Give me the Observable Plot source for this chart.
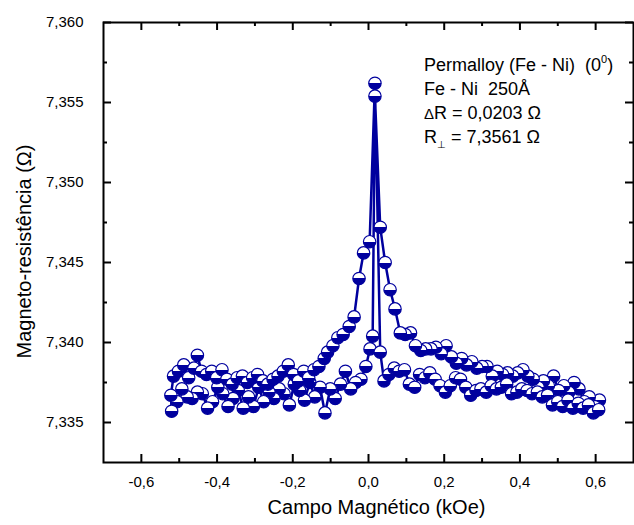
<!DOCTYPE html>
<html><head><meta charset="utf-8">
<script src="https://cdn.jsdelivr.net/npm/d3@7"></script>
<script src="https://cdn.jsdelivr.net/npm/@observablehq/plot@0.6"></script>
<style>body{margin:0;background:#fff} svg{display:block}</style>
</head><body><div id="chart"></div>
<script>
// Sweep with decreasing field (kOe) and resistance (Ω)
const sweepDownX = [0.610,0.597,0.583,0.570,0.556,0.543,0.529,0.516,0.502,0.489,0.475,0.462,0.448,0.435,0.421,0.408,0.394,0.381,0.367,0.354,0.340,0.327,0.313,0.300,0.286,0.273,0.259,0.246,0.232,0.219,0.205,0.192,0.178,0.165,0.151,0.138,0.124,0.111,0.097,0.084,0.070,0.057,0.044,0.031,0.017,0.011,0.004,-0.007,-0.020,-0.034,-0.047,-0.061,-0.074,-0.088,-0.101,-0.115,-0.128,-0.142,-0.155,-0.169,-0.182,-0.196,-0.209,-0.223,-0.236,-0.250,-0.263,-0.277,-0.290,-0.304,-0.317,-0.331,-0.344,-0.358,-0.371,-0.385,-0.398,-0.412,-0.425,-0.439,-0.452,-0.466,-0.479,-0.493,-0.506,-0.520];
const sweepDownY = [7.3364,7.3360,7.3366,7.3363,7.3371,7.3375,7.3369,7.3373,7.3370,7.3379,7.3373,7.3376,7.3372,7.3377,7.3379,7.3383,7.3381,7.3379,7.3381,7.3380,7.3382,7.3379,7.3385,7.3385,7.3384,7.3388,7.3386,7.3390,7.3387,7.3391,7.3398,7.3393,7.3397,7.3396,7.3396,7.3395,7.3398,7.3406,7.3405,7.3406,7.3421,7.3433,7.3450,7.3472,7.3554,7.3404,7.3396,7.3385,7.3377,7.3375,7.3371,7.3382,7.3374,7.3365,7.3371,7.3356,7.3372,7.3366,7.3375,7.3364,7.3370,7.3374,7.3361,7.3368,7.3371,7.3365,7.3369,7.3363,7.3372,7.3360,7.3366,7.3359,7.3370,7.3365,7.3360,7.3368,7.3372,7.3363,7.3359,7.3368,7.3369,7.3365,7.3366,7.3371,7.3363,7.3357];
// Sweep with increasing field
const sweepUpX = [-0.522,-0.515,-0.502,-0.488,-0.475,-0.461,-0.452,-0.441,-0.428,-0.414,-0.401,-0.387,-0.374,-0.360,-0.347,-0.333,-0.320,-0.306,-0.293,-0.279,-0.266,-0.252,-0.239,-0.225,-0.212,-0.198,-0.185,-0.171,-0.158,-0.144,-0.131,-0.117,-0.108,-0.094,-0.081,-0.067,-0.051,-0.038,-0.025,-0.013,0.003,0.017,0.031,0.041,0.054,0.068,0.081,0.095,0.108,0.122,0.135,0.149,0.162,0.176,0.189,0.203,0.216,0.230,0.243,0.257,0.270,0.284,0.297,0.311,0.324,0.338,0.351,0.365,0.378,0.392,0.405,0.419,0.432,0.446,0.459,0.473,0.486,0.500,0.513,0.527,0.540,0.554,0.567,0.581,0.594,0.608];
const sweepUpY = [7.3367,7.3379,7.3382,7.3386,7.3378,7.3384,7.3392,7.3382,7.3380,7.3382,7.3378,7.3383,7.3377,7.3374,7.3378,7.3379,7.3375,7.3378,7.3380,7.3376,7.3374,7.3377,7.3379,7.3382,7.3386,7.3380,7.3376,7.3382,7.3378,7.3383,7.3385,7.3390,7.3394,7.3398,7.3403,7.3405,7.3410,7.3416,7.3440,7.3456,7.3463,7.3562,7.3394,7.3376,7.3380,7.3384,7.3382,7.3383,7.3374,7.3372,7.3380,7.3378,7.3381,7.3377,7.3373,7.3369,7.3373,7.3378,7.3377,7.3372,7.3367,7.3370,7.3371,7.3369,7.3373,7.3371,7.3372,7.3374,7.3368,7.3369,7.3371,7.3370,7.3368,7.3369,7.3366,7.3367,7.3361,7.3363,7.3360,7.3364,7.3359,7.3362,7.3359,7.3361,7.3356,7.3358];

const xTicks = [-0.6,-0.4,-0.2,0.0,0.2,0.4,0.6];
const xMinorTicks = [-0.5,-0.3,-0.1,0.1,0.3,0.5];
const yTicks = [7.335,7.340,7.345,7.350,7.355,7.360];
const yMinorTicks = [7.3375,7.3425,7.3475,7.3525,7.3575];

const xTitle = "Campo Magnético (kOe)";
const yTitle = "Magneto-resistência (Ω)";

const xDomain = [-0.7, 0.7];
const yDomain = [7.3325, 7.360];

const navy = "#00009E";
const font = "'Liberation Sans', Arial, Helvetica, sans-serif";

const data = [
  ...sweepDownX.map((h, i) => ({h, res: sweepDownY[i]})),
  ...sweepUpX.map((h, i) => ({h, res: sweepUpY[i]}))
];

const fmtX = d => d.toFixed(1).replace(".", ",");
const fmtY = d => d.toFixed(3).replace(".", ",");

const W = 634, H = 525, mL = 103, mR = 1, mT = 22, mB = 63;
// inward tick lengths expressed in scale units (8 px major, 4 px minor)
const xPerPx = (xDomain[1] - xDomain[0]) / (W - mL - mR);
const yPerPx = (yDomain[1] - yDomain[0]) / (H - mT - mB);
const tickStyle = {stroke: "#000", strokeWidth: 2};
const ticksBottom = (v, px) => Plot.ruleX(v, {x: d => d, y1: yDomain[0], y2: yDomain[0] + px * yPerPx, ...tickStyle});
const ticksTop = (v, px) => Plot.ruleX(v, {x: d => d, y1: yDomain[1] - px * yPerPx, y2: yDomain[1], ...tickStyle});
const ticksLeft = (v, px) => Plot.ruleY(v, {y: d => d, x1: xDomain[0], x2: xDomain[0] + px * xPerPx, ...tickStyle});
const ticksRight = (v, px) => Plot.ruleY(v, {y: d => d, x1: xDomain[1] - px * xPerPx, x2: xDomain[1], ...tickStyle});

const svg = Plot.plot({
  width: W,
  height: H,
  marginLeft: mL,
  marginRight: mR,
  marginTop: mT,
  marginBottom: mB,
  style: {fontFamily: font, background: "#fff", color: "#000"},
  x: {domain: xDomain},
  y: {domain: yDomain},
  marks: [
    Plot.line(data, {x: "h", y: "res", stroke: navy, strokeWidth: 2.5}),
    Plot.dot(data, {x: "h", y: "res", r: 6.2, fill: "url(#halfFill)", stroke: navy, strokeWidth: 1.2}),
    // tick labels
    Plot.axisX(xTicks, {anchor: "bottom", tickSize: 0, tickPadding: 14, tickFormat: fmtX, fontSize: 15, label: null}),
    Plot.axisY(yTicks, {anchor: "left", tickSize: 0, tickPadding: 20, tickFormat: fmtY, fontSize: 15, label: null}),
    // inward ticks on all four sides
    ticksBottom(xTicks, 8), ticksBottom(xMinorTicks, 4),
    ticksTop(xTicks, 8), ticksTop(xMinorTicks, 4),
    ticksLeft(yTicks, 8), ticksLeft(yMinorTicks, 4),
    ticksRight(yTicks, 8), ticksRight(yMinorTicks, 4),
    Plot.frame({stroke: "#000", strokeWidth: 2}),
    Plot.text([xTitle], {text: d => d, frameAnchor: "bottom", textAnchor: "middle", dx: 8, dy: 51, fontSize: 20}),
    Plot.text([yTitle], {text: d => d, frameAnchor: "left", textAnchor: "middle", rotate: -90, dx: -79, dy: 9, fontSize: 20})
  ]
});

// half-filled marker gradient
const defs = d3.select(svg).insert("defs", ":first-child");
const grad = defs.append("linearGradient").attr("id", "halfFill")
  .attr("x1", 0).attr("y1", 0).attr("x2", 0).attr("y2", 1);
grad.append("stop").attr("offset", "0.5").attr("stop-color", "#fff");
grad.append("stop").attr("offset", "0.5").attr("stop-color", navy);

// annotation
const ann = d3.select(svg).append("g")
  .attr("font-family", font).attr("font-size", 18).attr("fill", "#000")
  .attr("text-anchor", "start");
const x0 = 424;
const t1 = ann.append("text").attr("x", x0).attr("y", 71);
t1.append("tspan").text("Permalloy (Fe - Ni)  (0");
t1.append("tspan").attr("font-size", 11).attr("dy", -8).text("0");
t1.append("tspan").attr("dy", 8).text(")");
ann.append("text").attr("x", x0).attr("y", 95).text("Fe - Ni  250Å");
const t3 = ann.append("text").attr("x", x0).attr("y", 119);
t3.append("tspan").attr("font-size", 15).text("Δ");
t3.append("tspan").text("R = 0,0203 Ω");
const t4 = ann.append("text").attr("x", x0).attr("y", 143);
t4.append("tspan").text("R");
t4.append("tspan").attr("font-size", 10).attr("dy", 5).text("⊥");
t4.append("tspan").attr("dy", -5).text(" = 7,3561 Ω");

document.getElementById("chart").appendChild(svg);
</script>
</body></html>
